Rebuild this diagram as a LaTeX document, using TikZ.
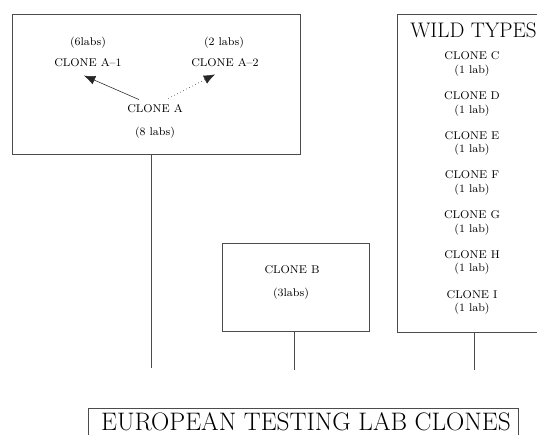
\documentclass[tikz,border=0pt]{standalone}
\usepackage{fontspec}
\usepackage{tikz}
\usetikzlibrary{arrows.meta,fit}
\tikzset{
    panel/.style={
        rectangle,
        draw=black!70,
        line width=0.6pt,
        inner sep=0pt
    },
    clonetext/.style={
        font=\fontsize{8}{10}\selectfont,
        inner sep=1pt
    },
    stem/.style={
        draw=black!70,
        line width=0.6pt
    },
    branch/.style={
        -{Latex[length=8pt,width=6.5pt]},
        black!85,
        line width=0.4pt
    }
}

\begin{document}
\begin{tikzpicture}[x=0.025cm, y=-0.025cm]
    \useasboundingbox (0,0) rectangle (537,434);

    % the three groups and the caption frame
    \node[panel, fit={(12,14) (300,154)}] (groupa) {};
    \node[panel, fit={(222,243) (369,331)}] (groupb) {};
    \node[panel, fit={(397,14) (620,332)}] (wild) {};
    \node[panel, fit={(88,408) (518,470)}] (caption) {};

    % group A
    \node[clonetext] (labsa1) at (88,43) {(6labs)};
    \node[clonetext] (clonea1) at (88,63) {CLONE A--1};
    \node[clonetext] (labsa2) at (224,43) {(2 labs)};
    \node[clonetext] (clonea2) at (225,63) {CLONE A--2};
    \node[clonetext] (clonea) at (155,109) {CLONE A};
    \node[clonetext] (labsa) at (155,133) {(8 labs)};

    \draw[branch] ([xshift=-0.4cm, yshift=0.09cm]clonea.north) -- ([xshift=-0.1cm, yshift=-0.17cm]clonea1.south);
    \draw[branch, dotted] ([xshift=0.33cm, yshift=0.12cm]clonea.north) -- ([xshift=-0.25cm, yshift=-0.14cm]clonea2.south);

    % group B
    \node[clonetext] (cloneb) at (292,270) {CLONE B};
    \node[clonetext] (labsb) at (291,294) {(3labs)};

    % wild types
    \node[font=\fontsize{15}{17}\selectfont, anchor=west, inner sep=0pt] (wildtitle) at (410,30) {WILD TYPES};
    \foreach \c [count=\i from 0] in {C,D,E,F,G,H,I} {
        \node[clonetext] (clone\c) at (472, {56+39.7*\i}) {CLONE \c};
        \node[clonetext] (lab\c) at (472, {70.5+39.7*\i}) {(1 lab)};
    }

    % stems down to the caption
    \coordinate (aend) at (151,368);
    \coordinate (bend) at (294,370);
    \coordinate (wildend) at (474,370);
    \draw[stem] (groupa.south -| aend) -- (aend);
    \draw[stem] (groupb.south -| bend) -- (bend);
    \draw[stem] (wild.south -| wildend) -- (wildend);

    \node[font=\fontsize{18}{20}\selectfont, anchor=base, inner sep=0pt] (captiontext) at (306,430) {EUROPEAN TESTING LAB CLONES};

\end{tikzpicture}
\end{document}
